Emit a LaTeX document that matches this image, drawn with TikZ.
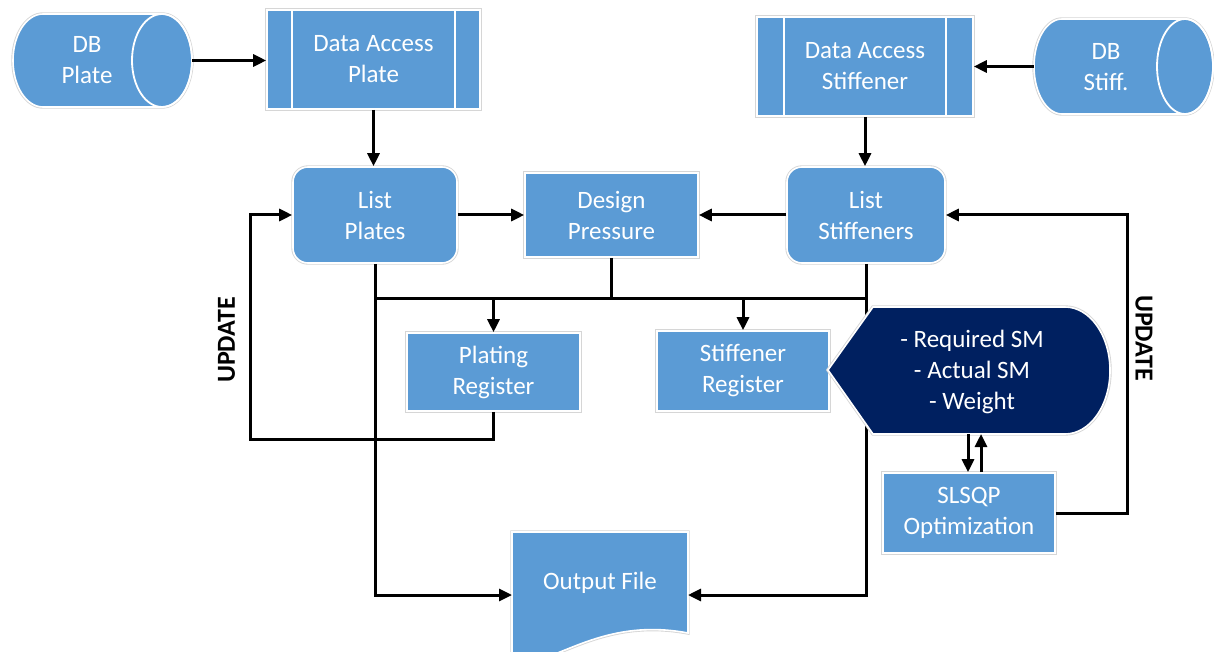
\documentclass[tikz,border=0pt]{standalone}
\usepackage{fontspec}
\setmainfont{Carlito}
\usetikzlibrary{arrows.meta}
\definecolor{mblue}{HTML}{5B9BD5}
\definecolor{navy}{HTML}{002060}
\tikzset{
  blk/.style={fill=mblue, draw=white, line width=1.6pt, preaction={draw=black!16, line width=3.4pt}},
  dark/.style={fill=navy, draw=white, line width=1.6pt, preaction={draw=black!16, line width=3.4pt}},
  txt/.style={text=white, align=center, font=\fontsize{25}{31}\selectfont},
  box/.style={blk, txt, rectangle, inner sep=0pt},
  ghost/.style={rectangle, inner sep=0pt, outer sep=0pt},
  wire/.style={draw=black, line width=3pt, line join=miter},
  arr/.style={wire, -{Triangle[length=13pt,width=12pt]}},
  divider/.style={draw=white, line width=2.4pt},
  tag/.style={font=\bfseries\fontsize{26}{30}\selectfont, text=black},
}
\begin{document}
\begin{tikzpicture}[x=1pt, y=1pt]
\useasboundingbox (0,0) rectangle (1214,-652);

% ---- database cylinders ----
\path[blk] (43,-14) -- (162,-14)
  arc[start angle=90, end angle=-90, x radius=30pt, y radius=46.5pt]
  -- (43,-107)
  arc[start angle=270, end angle=90, x radius=30pt, y radius=46.5pt] -- cycle;
\draw[white, line width=1.8pt] (162,-60.5) ellipse[x radius=30pt, y radius=46.5pt];
\node[ghost, minimum width=179pt, minimum height=93pt] (dbp) at (102.5,-60.5) {};
\node[txt] at (87,-60.5) {DB\\Plate};

\path[blk] (1062,-19) -- (1185,-19)
  arc[start angle=90, end angle=-90, x radius=28pt, y radius=47.5pt]
  -- (1062,-114)
  arc[start angle=270, end angle=90, x radius=28pt, y radius=47.5pt] -- cycle;
\draw[white, line width=1.8pt] (1185,-66.5) ellipse[x radius=28pt, y radius=47.5pt];
\node[ghost, minimum width=179pt, minimum height=95pt] (dbs) at (1123.5,-66.5) {};
\node[txt] at (1106,-67.5) {DB\\Stiff.};

% ---- data access (predefined process) ----
\node[box, minimum width=213pt, minimum height=99pt] (dap) at (373.5,-59.5) {Data Access\\Plate};
\draw[divider] ([xshift=26pt]dap.north west) -- ([xshift=26pt]dap.south west);
\draw[divider] ([xshift=-26pt]dap.north east) -- ([xshift=-26pt]dap.south east);

\node[box, minimum width=216pt, minimum height=99pt] (das) at (865,-66.5) {Data Access\\Stiffener};
\draw[divider] ([xshift=28pt]das.north west) -- ([xshift=28pt]das.south west);
\draw[divider] ([xshift=-28pt]das.north east) -- ([xshift=-28pt]das.south east);

% ---- lists and pressure ----
\node[box, rounded corners=15pt, minimum width=164pt, minimum height=96pt] (lp) at (375,-215) {List\\Plates};
\node[box, rounded corners=15pt, minimum width=158pt, minimum height=96pt] (ls) at (866,-215) {List\\Stiffeners};
\node[box, minimum width=173pt, minimum height=84pt] (dp) at (611.5,-215) {Design\\Pressure};

% ---- registers and optimiser ----
\node[box, minimum width=173pt, minimum height=78pt] (pr) at (493.5,-372) {Plating\\Register};
\node[box, minimum width=172pt, minimum height=80pt] (sr) at (743,-371) {Stiffener\\Register};
\node[box, minimum width=172pt, minimum height=80pt] (sq) at (969,-513) {SLSQP\\Optimization};

% ---- output document ----
\path[blk] (512,-532) -- (688,-532) -- (688,-633)
  .. controls (630,-622) and (590,-640) .. (560,-652)
  .. controls (540,-660) and (525,-664) .. (512,-664) -- cycle;
\node[ghost, minimum width=176pt, minimum height=126pt] (out) at (600,-595) {};
\node[txt] at (600,-583) {Output File};

% ---- results display (placeholder for anchors) ----
\node[ghost, minimum width=282pt, minimum height=127pt] (disp) at (969,-370.5) {};

% ---- connectors ----
\coordinate (bus) at (0,-298);
\coordinate (updL) at (250,-439);
\coordinate (updR) at (1127,-513);

\draw[arr] (dbp.east) -- (dbp.east -| dap.west);
\draw[arr] (dbs.west) -- (dbs.west -| das.east);
\draw[arr] (dap.south) -- (dap.south |- lp.north);
\draw[arr] (das.south) -- (das.south |- ls.north);
\draw[arr] (lp.east) -- (dp.west);
\draw[arr] (ls.west) -- (dp.east);

\draw[arr] (lp.south) |- (out.west);
\draw[arr] (ls.south) |- (out.east);
\draw[wire] (lp.south |- bus) -- (ls.south |- bus);
\draw[wire] (dp.south) -- (dp.south |- bus);
\draw[arr] (pr.north |- bus) -- (pr.north);
\draw[arr] (sr.north |- bus) -- (sr.north);

\draw[arr] (pr.south) |- (updL) |- (lp.west);
\draw[arr] (sq.east) -- (updR) |- (ls.east);

% ---- results display ----
\path[dark] (828,-370) -- (873,-307) -- (1065,-307)
  arc[start angle=90, end angle=-90, x radius=45pt, y radius=63.5pt]
  -- (873,-434) -- cycle;
\node[txt] at (972,-372) {- Required SM\\- Actual SM\\- Weight};

\draw[arr] ([xshift=-1pt]disp.south) -- ([xshift=-1pt]sq.north);
\draw[arr] ([xshift=12pt]sq.north) -- ([xshift=12pt]disp.south);

% ---- loop labels ----
\node[tag, rotate=90] at (226.5,-340) {UPDATE};
\node[tag, rotate=-90] at (1144,-338) {UPDATE};
\end{tikzpicture}
\end{document}
